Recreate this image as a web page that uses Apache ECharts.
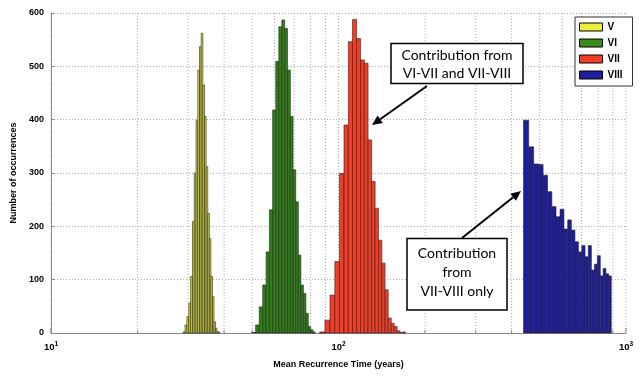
<!DOCTYPE html>
<html>
<head>
<meta charset="utf-8">
<script src="https://cdn.jsdelivr.net/npm/echarts@6/dist/echarts.min.js"></script>
<style>html,body{margin:0;padding:0;background:#fff}#chart{width:643px;height:376px}</style>
</head>
<body>
<div id="chart"></div>
<script>
// ---------------- data ----------------
const seriesNames = ['V', 'VI', 'VII', 'VIII'];

// histogram V (yellow)
const binStartV = 28.8, binWidthV = 0.45;
const countsV = [2, 15, 31, 56, 106, 209, 300, 399, 493, 537, 562, 465, 406, 312, 224, 177, 106, 68, 21, 9, 3, 1];

// histogram VI (green)
const binStartVI = 50, binWidthVI = 1.5;
const countsVI = [1, 15, 49, 90, 152, 231, 418, 509, 574, 587, 571, 493, 406, 306, 246, 146, 90, 74, 37, 12, 6, 2];

// histogram VII (red)
const binStartVII = 86, binWidthVII = 3.7;
const countsVII = [2, 24, 71, 134, 299, 390, 546, 588, 552, 512, 506, 362, 284, 234, 174, 131, 81, 28, 18, 12, 4, 1, 2];

// histogram VIII (blue)
const binStartVIII = 440, binWidthVIII = 18.7;
const countsVIII = [399, 349, 317, 316, 296, 265, 237, 218, 232, 195, 212, 193, 171, 152, 164, 143, 164, 118, 129, 145, 107, 121, 111, 107];

// axis ticks
const xMajorTicks = [10, 100, 1000];
const xMinorTicks = [20, 30, 40, 50, 60, 70, 80, 90, 200, 300, 400, 500, 600, 700, 800, 900];
const yMin = 0, yMax = 600, yStep = 100;

const xTitle = 'Mean Recurrence Time (years)';
const yTitle = 'Number of occurrences';
const note1 = 'Contribution from\nVI-VII and VII-VIII';
const note2 = 'Contribution\nfrom\nVII-VIII only';

// ---------------- chart ----------------
const FONT = '"Liberation Sans", Arial, sans-serif';
const colors = { V: '#eded3c', VI: '#3a8a1c', VII: '#f23c26', VIII: '#1e1e9c' };
const barFill = { V: '#d8d83a', VI: '#2f7f16', VII: '#f23c26', VIII: '#1e1e9c' };

function histSeries(name, start, width, counts) {
  const data = counts.map((c, i) => [start + i * width, start + (i + 1) * width, c]);
  return {
    type: 'custom', name: name, data: data, z: 3,
    encode: { x: [0, 1], y: 2 },
    itemStyle: { color: colors[name] },
    renderItem: function (params, api) {
      const p0 = api.coord([api.value(0), api.value(2)]);
      const p1 = api.coord([api.value(1), 0]);
      return {
        type: 'rect',
        shape: { x: p0[0], y: p0[1], width: p1[0] - p0[0], height: p1[1] - p0[1] },
        style: { fill: barFill[name], stroke: '#262626', lineWidth: 0.6 }
      };
    }
  };
}

const gridData = xMajorTicks.map(v => [v, 0, 1]).concat(xMinorTicks.map(v => [v, 0, 0]));
const gridSeries = {
  type: 'custom', name: 'grid', silent: true, z: 1,
  data: gridData, encode: { x: 0, y: 1 },
  renderItem: function (params, api) {
    const p = api.coord([api.value(0), 0]);
    const top = params.coordSys.y;
    const bottom = params.coordSys.y + params.coordSys.height;
    const len = api.value(2) ? 5 : 3;
    return {
      type: 'group',
      children: [
        { type: 'line', shape: { x1: p[0], y1: top, x2: p[0], y2: bottom },
          style: { stroke: '#ababab', lineWidth: 1, lineDash: [1, 2] } },
        { type: 'line', shape: { x1: p[0], y1: bottom, x2: p[0], y2: bottom - len },
          style: { stroke: '#888', lineWidth: 1 } }
      ]
    };
  }
};

function arrow(x1, y1, x2, y2) {
  const a = Math.atan2(y2 - y1, x2 - x1);
  const L = 10, W = 4.5;
  const bx = x2 - L * Math.cos(a), by = y2 - L * Math.sin(a);
  return [
    { type: 'line', z: 20, shape: { x1: x1, y1: y1, x2: bx, y2: by }, style: { stroke: '#000', lineWidth: 2 } },
    { type: 'polygon', z: 20, shape: { points: [[x2, y2], [bx + W * Math.sin(a), by - W * Math.cos(a)], [bx - W * Math.sin(a), by + W * Math.cos(a)]] }, style: { fill: '#000' } }
  ];
}

const noteFont = '14px Lato, "Open Sans", sans-serif';
const graphics = [
  { type: 'rect', z: 20, shape: { x: 391, y: 43.5, width: 132, height: 40 }, style: { fill: '#fff', stroke: '#000', lineWidth: 1.5 } },
  { type: 'text', z: 21, x: 457, y: 64, style: { text: note1, font: noteFont, fill: '#000', align: 'center', verticalAlign: 'middle', lineHeight: 18 } },
  { type: 'rect', z: 20, shape: { x: 407, y: 238.5, width: 100, height: 71.5 }, style: { fill: '#fff', stroke: '#000', lineWidth: 1.5 } },
  { type: 'text', z: 21, x: 457, y: 272, style: { text: note2, font: noteFont, fill: '#000', align: 'center', verticalAlign: 'middle', lineHeight: 19 } }
].concat(arrow(427, 86, 372, 125)).concat(arrow(462, 238, 521, 191));

const chart = echarts.init(document.getElementById('chart'), null, { renderer: 'canvas' });
chart.setOption({
  animation: false,
  backgroundColor: '#fff',
  grid: { left: 51, right: 17, top: 13, bottom: 43, containLabel: false, outerBoundsMode: 'none' },
  legend: {
    data: seriesNames, orient: 'vertical', left: 575, top: 17, icon: 'rect',
    itemWidth: 23, itemHeight: 8, itemGap: 6, padding: [5, 10, 6, 4],
    borderColor: '#333', borderWidth: 1, backgroundColor: '#fff', z: 30,
    selectedMode: false,
    itemStyle: { borderColor: '#000', borderWidth: 1 },
    textStyle: { fontFamily: FONT, fontSize: 10, fontWeight: 'bold', color: '#000', lineHeight: 8 }
  },
  xAxis: {
    type: 'log', logBase: 10, min: 10, max: 1000, splitNumber: 2,
    axisLine: { show: true, lineStyle: { color: '#888', width: 1 } },
    axisTick: { show: false }, splitLine: { show: false }, minorTick: { show: false },
    axisLabel: {
      margin: 8, color: '#000',
      formatter: v => '{b|10}{s|' + Math.round(Math.log10(v)) + '}',
      rich: {
        b: { fontFamily: FONT, fontSize: 9.5, fontWeight: 'bold', color: '#000' },
        s: { fontFamily: FONT, fontSize: 6.5, fontWeight: 'bold', color: '#000', padding: [0, 0, 6, 0] }
      }
    },
    name: xTitle, nameLocation: 'middle', nameGap: 27,
    nameTextStyle: { fontFamily: FONT, fontSize: 9, fontWeight: 'bold', color: '#000' }
  },
  yAxis: {
    type: 'value', min: yMin, max: yMax, interval: yStep,
    axisLine: { show: true, lineStyle: { color: '#888', width: 1 } },
    axisTick: { show: true, inside: true, length: 4, lineStyle: { color: '#888' } },
    splitLine: { show: true, lineStyle: { type: [1, 2], color: '#ababab', width: 1 } },
    axisLabel: { fontFamily: FONT, fontSize: 9, fontWeight: 'bold', color: '#000', margin: 7 },
    name: yTitle, nameLocation: 'middle', nameGap: 25, nameRotate: 90,
    nameTextStyle: { fontFamily: FONT, fontSize: 9, fontWeight: 'bold', color: '#000' }
  },
  series: [
    gridSeries,
    histSeries('V', binStartV, binWidthV, countsV),
    histSeries('VI', binStartVI, binWidthVI, countsVI),
    histSeries('VII', binStartVII, binWidthVII, countsVII),
    histSeries('VIII', binStartVIII, binWidthVIII, countsVIII)
  ],
  graphic: graphics
});
</script>
</body>
</html>
